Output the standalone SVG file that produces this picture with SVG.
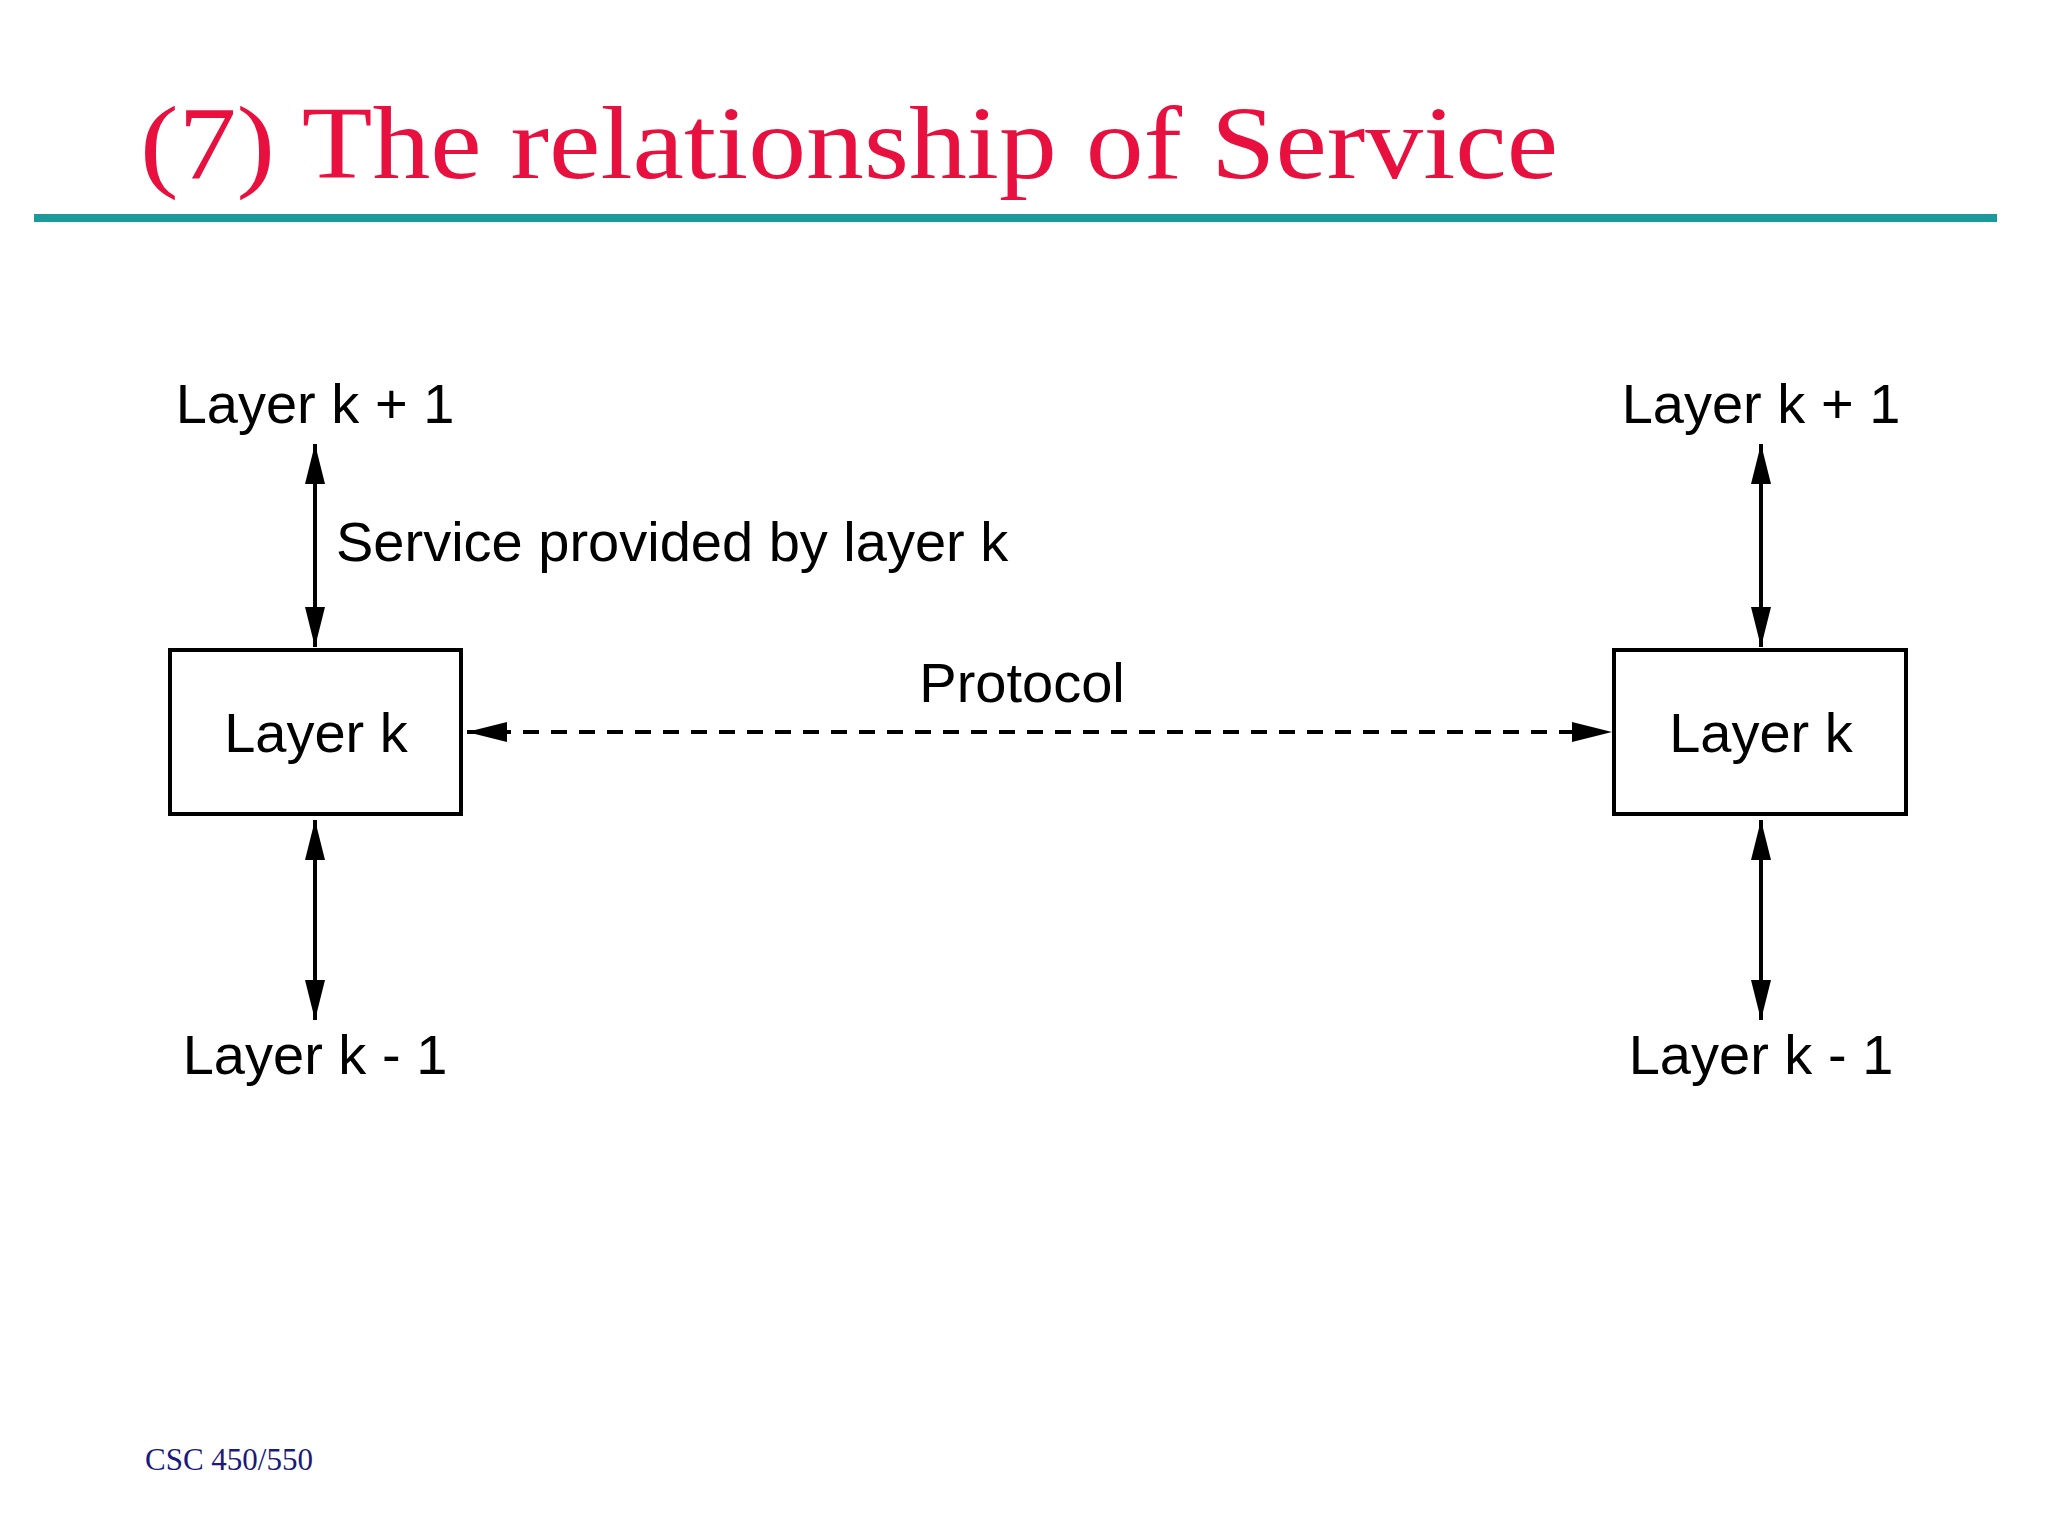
<svg xmlns="http://www.w3.org/2000/svg" width="2048" height="1536" viewBox="0 0 2048 1536">
<style>
.lbl{font-family:"Liberation Sans",Arial,sans-serif;font-size:56px;fill:#000}
.box{fill:#fff;stroke:#000;stroke-width:4}
.ln{stroke:#000;stroke-width:4;fill:none}
</style>
<defs>
<marker id="big" viewBox="0 0 40 20" refX="40" refY="10" markerWidth="40" markerHeight="20" markerUnits="userSpaceOnUse" orient="auto-start-reverse">
<path d="M0,0 L40,10 L0,20 z" fill="#000"/>
</marker>
</defs>
<rect width="2048" height="1536" fill="#fff"/>
<text x="140" y="178" font-family="Liberation Serif,serif" font-size="104" fill="#e8103f" textLength="1418" lengthAdjust="spacingAndGlyphs">(7) The relationship of Service</text>
<rect x="34" y="214" width="1963" height="8" fill="#1a9a9a"/>
<g id="connectors">
<line class="ln" x1="315" y1="444" x2="315" y2="647" marker-start="url(#big)" marker-end="url(#big)"/>
<line class="ln" x1="315" y1="820" x2="315" y2="1020" marker-start="url(#big)" marker-end="url(#big)"/>
<line class="ln" x1="1761" y1="444" x2="1761" y2="647" marker-start="url(#big)" marker-end="url(#big)"/>
<line class="ln" x1="1761" y1="820" x2="1761" y2="1020" marker-start="url(#big)" marker-end="url(#big)"/>
<line class="ln" x1="467" y1="732" x2="1612" y2="732" stroke-dasharray="16,12" marker-start="url(#big)" marker-end="url(#big)"/>
<text class="lbl" x="336" y="561">Service provided by layer k</text>
<text class="lbl" x="1022" y="702" text-anchor="middle">Protocol</text>
</g>
<g id="left-k"><rect class="box" x="170" y="650" width="291" height="164"/><text class="lbl" x="316" y="752" text-anchor="middle">Layer k</text></g>
<g id="right-k"><rect class="box" x="1614" y="650" width="292" height="164"/><text class="lbl" x="1761" y="752" text-anchor="middle">Layer k</text></g>
<g id="left-up"><text class="lbl" x="315" y="423" text-anchor="middle">Layer k + 1</text></g>
<g id="right-up"><text class="lbl" x="1761" y="423" text-anchor="middle">Layer k + 1</text></g>
<g id="left-down"><text class="lbl" x="315" y="1074" text-anchor="middle">Layer k - 1</text></g>
<g id="right-down"><text class="lbl" x="1761" y="1074" text-anchor="middle">Layer k - 1</text></g>
<text x="145" y="1470" font-family="Liberation Serif,serif" font-size="31" fill="#1a1a7a">CSC 450/550</text>
</svg>
